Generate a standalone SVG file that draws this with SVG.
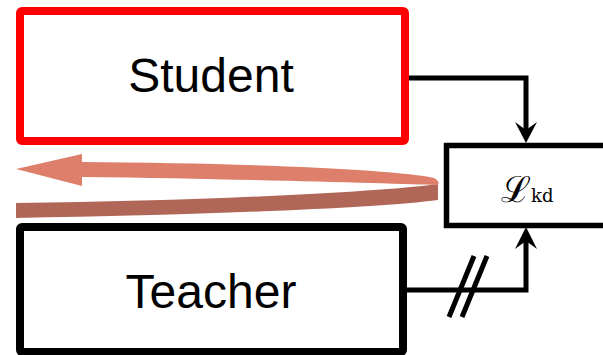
<svg xmlns="http://www.w3.org/2000/svg" width="603" height="355" viewBox="0 0 603 355">
<style>
.lbl{font-family:"Liberation Sans",Arial,sans-serif;font-size:48px;fill:#000;text-anchor:middle}
.conn{fill:none;stroke:#000;stroke-width:5}
.head{fill:#000;stroke:none}
</style>
<rect x="0" y="0" width="603" height="355" fill="#fff"/>
<g id="feedback">
<path d="M438,184 C380,192 200,201 16,203 L16,218 C200,215 380,208 438,200 Z" fill="#B16757"/>
<path d="M82,162 C250,163 400,170 434,178 Q440,181 438,185 C400,184 250,179 82,177 Z M82,154 L16,169 L82,186 Z" fill="#DE7F6C"/>
</g>
<g id="student">
<rect x="20" y="11" width="385" height="130" rx="2" fill="#fff" stroke="#f00" stroke-width="8"/>
<text class="lbl" x="211" y="92">Student</text>
</g>
<g id="teacher">
<rect x="20" y="227" width="383" height="125" rx="2" fill="#fff" stroke="#000" stroke-width="8"/>
<text class="lbl" x="211" y="308">Teacher</text>
</g>
<g id="loss">
<rect x="446.5" y="145.5" width="170" height="80" fill="#fff" stroke="#000" stroke-width="5.5"/>
<text x="501" y="202" font-family="'DejaVu Serif','Liberation Serif',serif" fill="#000"><tspan font-size="36">ℒ</tspan><tspan font-size="18">kd</tspan></text>
</g>
<g id="connectors">
<path class="conn" d="M409,78 H526 V130"/>
<path class="head" d="M526,143 L515,122 L526,130 L537,122 Z"/>
<path class="conn" d="M406,290 H526 V241"/>
<path class="head" d="M526,227 L515,249 L526,241 L537,249 Z"/>
<path class="conn" stroke-width="4" d="M449,317 L474,256 M462,317 L487,256"/>
</g>
</svg>
